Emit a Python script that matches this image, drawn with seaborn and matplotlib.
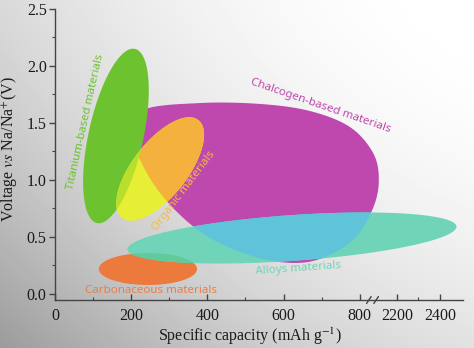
import numpy as np
import matplotlib
matplotlib.use("Agg")
import matplotlib.pyplot as plt
import seaborn as sns

# ---------------- data ----------------
# x axis has a break between 800 and 2200 mAh/g; positions are in "axis units"
x_major_cap = [0, 200, 400, 600, 800, 2200, 2400]
x_minor_cap = [100, 300, 500, 700, 2300]
y_major = [0.0, 0.5, 1.0, 1.5, 2.0, 2.5]
y_minor = [0.25, 0.75, 1.25, 1.75, 2.25]

# ellipses: centre (axis units, V), semi-axes (axis units, visual), angle (deg)
ell_names = ["Titanium-based materials", "Organic materials",
             "Alloys materials", "Carbonaceous materials"]
ell_cx = [160, 276, 622, 244]
ell_cy = [1.386, 1.096, 0.491, 0.219]
ell_a = [234, 163, 433, 129]
ell_b = [72, 72, 60, 42]
ell_ang = [77.7, 52.0, 4.0, 0.0]

# chalcogen-based region outline (axis units, V)
chalc_x = [202, 231, 381, 538, 669, 774, 835, 850, 835, 787, 709, 630, 525, 407, 315, 244]
chalc_y = [1.395, 1.614, 1.675, 1.667, 1.605, 1.465, 1.237, 1.0, 0.754, 0.491,
           0.325, 0.272, 0.325, 0.491, 0.737, 1.044]

# labels
lab_text = ["Titanium-based materials", "Chalcogen-based materials", "Organic materials",
            "Alloys materials", "Carbonaceous materials"]
lab_x = [79, 696, 339, 640, 252]
lab_y = [1.51, 1.65, 0.90, 0.22, 0.026]
lab_rot = [77.5, -19, 53, 4, 0]
lab_col = ["#6cc32f", "#be48ad", "#f2bb45", "#72d4ba", "#ec7d48"]

# ---------------- style ----------------
sns.set_style("ticks")
plt.rcParams["font.family"] = ["Liberation Serif", "DejaVu Serif"]
plt.rcParams["mathtext.fontset"] = "stix"

W, H = 474, 348
fig = plt.figure(figsize=(W / 100, H / 100), dpi=100)
fig.patch.set_facecolor("white")

# background gradient
bg = fig.add_axes([0, 0, 1, 1], zorder=-10)
xx, yy = np.meshgrid(np.linspace(0, 1, W), np.linspace(0, 1, H))
val = 255 - 38 * (1 - xx) ** 2 - 30 * yy ** 2 - 32 * (1 - xx) * yy
bg.imshow(val, cmap="gray", vmin=0, vmax=255, aspect="auto", interpolation="bilinear")
bg.axis("off")

ax = fig.add_axes([55 / W, 48 / H, 408 / W, 291 / H])
ax.set_facecolor("none")

XMAX = 1071
YMIN, YMAX = -0.053, 2.5
ax.set_xlim(0, XMAX)
ax.set_ylim(YMIN, YMAX)


def cap_to_pos(c):
    return c if c <= 800 else 898 + (c - 2200) * 0.56


# visual scale: axis units per volt
S = (291 / (YMAX - YMIN)) / (408 / XMAX)


def ellipse_xy(cx, cy, a, b, ang, n=240):
    t = np.linspace(0, 2 * np.pi, n)
    th = np.deg2rad(ang)
    u, v = a * np.cos(t), b * np.sin(t)
    xr = u * np.cos(th) - v * np.sin(th)
    yr = u * np.sin(th) + v * np.cos(th)
    return cx + xr, cy + yr / S


def closed_smooth(px, py, n=24):
    P = np.column_stack([px, py]).astype(float)
    N = len(P)
    out = []
    t = np.linspace(0, 1, n, endpoint=False)[:, None]
    for i in range(N):
        p0, p1, p2, p3 = P[i - 1], P[i], P[(i + 1) % N], P[(i + 2) % N]
        out.append(0.5 * (2 * p1 + (-p0 + p2) * t + (2 * p0 - 5 * p1 + 4 * p2 - p3) * t ** 2
                          + (-p0 + 3 * p1 - 3 * p2 + p3) * t ** 3))
    out = np.vstack(out)
    return out[:, 0], out[:, 1]


E = {nm: ellipse_xy(ell_cx[i], ell_cy[i], ell_a[i], ell_b[i], ell_ang[i])
     for i, nm in enumerate(ell_names)}
cx_, cy_ = closed_smooth(chalc_x, chalc_y)

# chalcogen
mag = ax.fill(cx_, cy_, color="#be48ad", lw=0, zorder=1)[0]
# titanium
grn = ax.fill(*E["Titanium-based materials"], color="#6cc32f", lw=0, zorder=2)[0]
# organic
ax.fill(*E["Organic materials"], color="#e6ee35", lw=0, zorder=3)
p = ax.fill(*E["Organic materials"], color="#f5b13e", lw=0, zorder=3.1)[0]
p.set_clip_path(mag)
p = ax.fill(*E["Organic materials"], color="#b8df2c", lw=0, zorder=3.2)[0]
p.set_clip_path(grn)
# carbonaceous
carb = ax.fill(*E["Carbonaceous materials"], color="#ec7a3c", lw=0, zorder=4)[0]
# alloys
ax.fill(*E["Alloys materials"], color="#70d4b8", lw=0, zorder=5)
p = ax.fill(*E["Alloys materials"], color="#5fc4da", lw=0, zorder=5.1)[0]
p.set_clip_path(mag)
p = ax.fill(*E["Alloys materials"], color="#62c99a", lw=0, zorder=5.2)[0]
p.set_clip_path(carb)

for t, x, y, r, c in zip(lab_text, lab_x, lab_y, lab_rot, lab_col):
    ax.text(x, y, t, rotation=r, color=c, fontsize=8.3, family=["Noto Sans", "DejaVu Sans"],
            ha="center", va="center", rotation_mode="anchor", zorder=8)

# axes / ticks
sns.despine(ax=ax)
for s in ["left", "bottom"]:
    ax.spines[s].set_color("#444444")
    ax.spines[s].set_linewidth(1.0)

ax.set_xticks([cap_to_pos(c) for c in x_major_cap])
ax.set_xticklabels([str(c) for c in x_major_cap])
ax.set_xticks([cap_to_pos(c) for c in x_minor_cap], minor=True)
ax.set_yticks(y_major)
ax.set_yticklabels([f"{v:.1f}" for v in y_major])
ax.set_yticks(y_minor, minor=True)

ax.tick_params(axis="x", which="major", direction="in", length=4, width=1, colors="#444444",
               labelcolor="#1a1a1a", labelsize=11.5, pad=6)
ax.tick_params(axis="x", which="minor", direction="in", length=2.5, width=0.8, colors="#444444")
ax.tick_params(axis="y", which="major", direction="out", length=4, width=1, colors="#444444",
               labelcolor="#1a1a1a", labelsize=11.5, pad=2)
ax.tick_params(axis="y", which="minor", direction="out", length=2.5, width=0.8, colors="#444444")

# axis break marks
for bx in (824, 843):
    ax.plot([bx - 6, bx + 6], [YMIN - 0.03, YMIN + 0.03], color="#444444", lw=1,
            clip_on=False, zorder=9)

ax.set_xlabel(r"Specific capacity (mAh g$^{-1}$)", fontsize=11.5, color="#1a1a1a")
ax.set_ylabel(r"Voltage $\mathit{vs}$ Na/Na$^{+}$(V)", fontsize=11.5, color="#1a1a1a")
ax.xaxis.set_label_coords(0.478, -0.088)
ax.yaxis.set_label_coords(-0.088, 0.52)

fig.savefig("out.png", dpi=100)
